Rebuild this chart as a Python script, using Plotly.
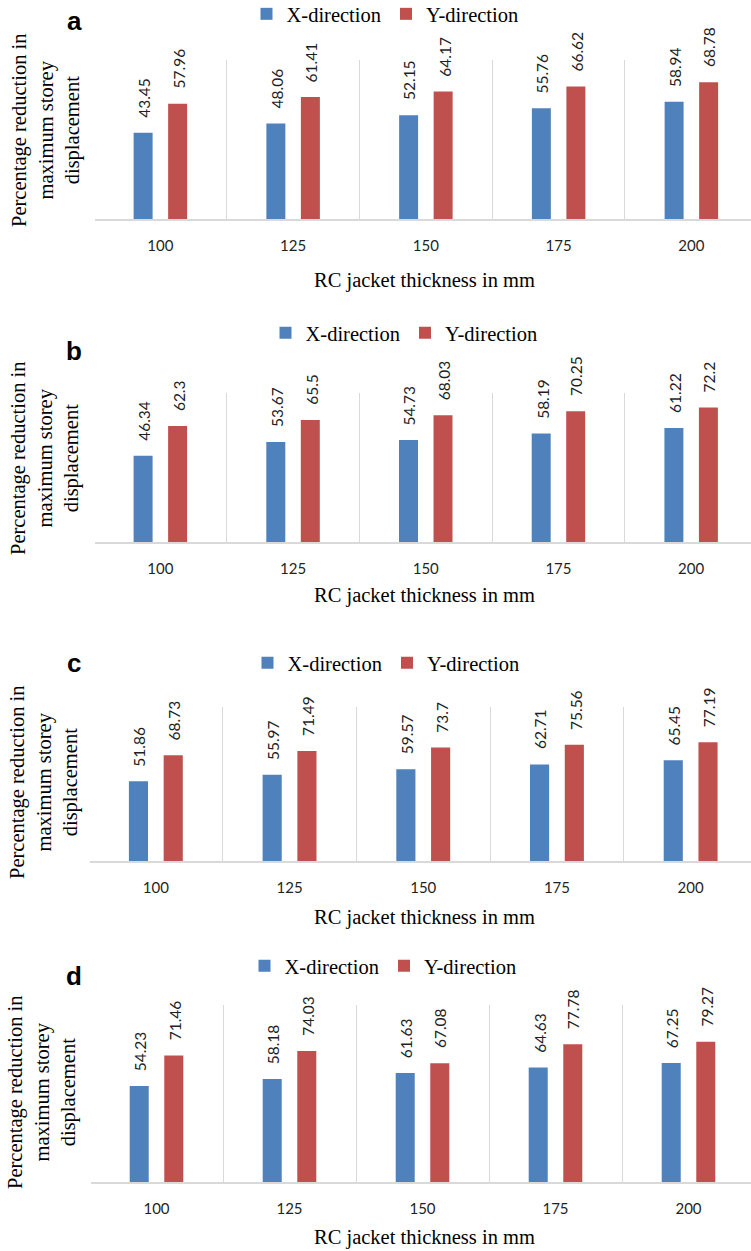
import plotly.graph_objects as go

# ---------------- data ----------------
categories = ["100", "125", "150", "175", "200"]
series_names = ["X-direction", "Y-direction"]

x_dir_a = [43.45, 48.06, 52.15, 55.76, 58.94]
y_dir_a = [57.96, 61.41, 64.17, 66.62, 68.78]

x_dir_b = [46.34, 53.67, 54.73, 58.19, 61.22]
y_dir_b = [62.3, 65.5, 68.03, 70.25, 72.2]

x_dir_c = [51.86, 55.97, 59.57, 62.71, 65.45]
y_dir_c = [68.73, 71.49, 73.7, 75.56, 77.19]

x_dir_d = [54.23, 58.18, 61.63, 64.63, 67.25]
y_dir_d = [71.46, 74.03, 67.08, 77.78, 79.27]

panel_letters = ["a", "b", "c", "d"]
y_axis_max = [80, 80, 100, 100]
x_title = "RC jacket thickness in mm"
y_title = "Percentage reduction in<br>maximum storey<br>displacement"

# ---------------- layout / styling ----------------
W, H = 751, 1251
colors = ["#4f81bd", "#c0504d"]
SERIF = "Liberation Serif, Times New Roman, serif"
SANS = "Lato, Carlito, Calibri, sans-serif"
BOLD = "Liberation Sans, Arial, sans-serif"
GRID = "#d9d9d9"
LABEL_SIZE = 15.5
TEXT_DARK = "#1f1f1f"

# pixel geometry of each panel
geom = [
    dict(left=94, cw=132.75, top=60, base=219, leg=(385, 14), letter=(74, 21), yt=(46, 130), xt=(424, 280)),
    dict(left=94, cw=132.7, top=393, base=542, leg=(404, 333), letter=(74, 351), yt=(45, 458), xt=(424, 595)),
    dict(left=89, cw=133.7, top=707, base=861, leg=(386, 663), letter=(74, 663), yt=(44, 782), xt=(424, 917)),
    dict(left=90, cw=133.0, top=1005, base=1182, leg=(383, 966), letter=(74, 976), yt=(42, 1092), xt=(424, 1237)),
]

data_sets = [(x_dir_a, y_dir_a), (x_dir_b, y_dir_b), (x_dir_c, y_dir_c), (x_dir_d, y_dir_d)]

bargap = 0.48
bargroupgap = 0.45
slot = (1 - bargap) / 2
offsets = [-slot / 2, slot / 2]


def text_len_px(s, size):
    # approximate advance width of a numeric label (Lato metrics)
    return sum((0.255 if ch == "." else 0.58) for ch in s) * size


fig = go.Figure()
annotations = []
layout_extra = {}
eps = 0.01
label_gap = 15

for p, (g, ds) in enumerate(zip(geom, data_sets)):
    k = "" if p == 0 else str(p + 1)
    xa, ya = "x" + k, "y" + k
    legname = "legend" + k
    for s, vals in enumerate(ds):
        fig.add_trace(go.Bar(
            x=categories, y=vals, name=series_names[s],
            marker=dict(color=colors[s], line=dict(width=0)),
            xaxis=xa, yaxis=ya, legend=legname, hoverinfo="x+y",
        ))
        for i, v in enumerate(vals):
            txt = f"{v:g}"
            annotations.append(dict(
                x=i + offsets[s], y=v, xref=xa, yref=ya, text=txt,
                textangle=-90, showarrow=False, yanchor="middle", xanchor="center",
                yshift=label_gap + text_len_px(txt, LABEL_SIZE) / 2, xshift=1,
                font=dict(family=SANS, size=LABEL_SIZE, color=TEXT_DARK),
            ))
    left_px = g["left"] + eps * g["cw"]
    r1 = (W - g["left"]) / g["cw"] - 0.5
    layout_extra["xaxis" + k] = dict(
        domain=[left_px / W, 1], anchor=ya, type="category",
        categoryorder="array", categoryarray=categories,
        range=[-0.5 + eps, r1],
        showline=True, linecolor=GRID, linewidth=2,
        showgrid=True, gridcolor=GRID, gridwidth=1, tickson="boundaries",
        ticks="", ticklabelstandoff=12,
        tickfont=dict(family=SANS, size=15, color=TEXT_DARK),
        zeroline=False, fixedrange=True,
    )
    layout_extra["yaxis" + k] = dict(
        domain=[1 - g["base"] / H, 1 - g["top"] / H], anchor=xa,
        range=[0, y_axis_max[p]], showgrid=False, showticklabels=False,
        zeroline=False, showline=False, ticks="", fixedrange=True,
    )
    layout_extra[legname] = dict(
        orientation="h", x=g["leg"][0] / W, xanchor="center",
        y=1 - g["leg"][1] / H, yanchor="middle",
        font=dict(family=SERIF, size=20.5, color="#000000"),
        bgcolor="rgba(0,0,0,0)", traceorder="normal", itemclick=False,
        itemdoubleclick=False,
    )
    # panel letter
    annotations.append(dict(
        x=g["letter"][0] / W, y=1 - g["letter"][1] / H, xref="paper", yref="paper",
        text=f"<b>{panel_letters[p]}</b>", showarrow=False, xanchor="center", yanchor="middle",
        font=dict(family=BOLD, size=26, color="#000000"),
    ))
    # y title
    annotations.append(dict(
        x=g["yt"][0] / W, y=1 - g["yt"][1] / H, xref="paper", yref="paper",
        text=y_title, textangle=-90, showarrow=False, xanchor="center", yanchor="middle",
        font=dict(family=SERIF, size=20.5, color="#000000"),
    ))
    # x title
    annotations.append(dict(
        x=g["xt"][0] / W, y=1 - g["xt"][1] / H, xref="paper", yref="paper",
        text=x_title, showarrow=False, xanchor="center", yanchor="middle",
        font=dict(family=SERIF, size=20.5, color="#000000"),
    ))

fig.update_layout(
    width=W, height=H, autosize=False,
    margin=dict(l=0, r=0, t=0, b=0, autoexpand=False),
    paper_bgcolor="white", plot_bgcolor="white",
    barmode="group", bargap=bargap, bargroupgap=bargroupgap,
    annotations=annotations, showlegend=True,
    **layout_extra,
)

fig.write_html("out.html", config=dict(displayModeBar=False))
